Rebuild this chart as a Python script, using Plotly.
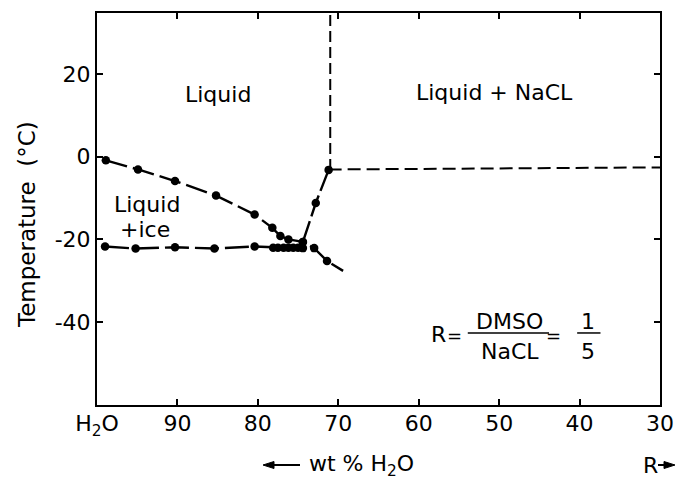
import plotly.graph_objects as go

# ---- data ----
# ice liquidus (Liquid / Liquid + ice boundary)
ice_wt = [98.9, 94.9, 90.3, 85.2, 80.4, 78.2, 77.2, 76.2, 74.4, 73.0, 71.4]
ice_T = [-0.9, -3.1, -5.9, -9.4, -14.0, -17.2, -19.2, -20.0, -20.6, -22.1, -25.2]
ice_line_end_wt = 69.4
ice_line_end_T = -27.6

# eutectic (solidus) line
eut_wt = [99.0, 95.2, 90.3, 85.4, 80.4, 78.1, 77.5, 76.8, 76.2, 75.6, 75.0, 74.4]
eut_T = [-21.7, -22.2, -21.9, -22.2, -21.7, -22.0, -22.0, -22.0, -22.0, -22.0, -22.0, -22.1]

# NaCl liquidus
nacl_wt = [74.4, 72.8, 71.2]
nacl_T = [-20.6, -11.2, -3.2]

# dashed phase boundaries
vert_wt = [71.0, 71.0]
vert_T = [-3.2, 35.0]
horiz_wt = [71.2, 30.0]
horiz_T = [-3.1, -2.6]

x_tickvals = [100, 90, 80, 70, 60, 50, 40, 30]
x_ticktext = ["H<sub>2</sub>O", "90", "80", "70", "60", "50", "40", "30"]
y_tickvals = [20, 0, -20, -40]
y_ticktext = ["20", "0", "-20", "-40"]

FONT = "DejaVu Sans"
FS = 22
BLACK = "black"

# plot area in pixels (for paper-coordinate placement of decorations)
PX_L, PX_R, PX_T, PX_B = 97, 660, 13, 405
def px(xp):
    return (xp - PX_L) / (PX_R - PX_L)
def py(yp):
    return (PX_B - yp) / (PX_B - PX_T)

fig = go.Figure()

fig.add_trace(go.Scatter(
    x=ice_wt + [ice_line_end_wt], y=ice_T + [ice_line_end_T], mode="lines",
    line=dict(color=BLACK, width=2.4, dash="22px,6px"), hoverinfo="skip"))
fig.add_trace(go.Scatter(
    x=eut_wt, y=eut_T, mode="lines",
    line=dict(color=BLACK, width=2.4, dash="24px,6px"), hoverinfo="skip"))
fig.add_trace(go.Scatter(
    x=nacl_wt, y=nacl_T, mode="lines",
    line=dict(color=BLACK, width=2.4, dash="22px,5px"), hoverinfo="skip"))
fig.add_trace(go.Scatter(
    x=vert_wt, y=vert_T, mode="lines",
    line=dict(color=BLACK, width=2, dash="11px,5px"), hoverinfo="skip"))
fig.add_trace(go.Scatter(
    x=horiz_wt, y=horiz_T, mode="lines",
    line=dict(color=BLACK, width=2, dash="13px,6px"), hoverinfo="skip"))

# markers
for xs, ys in [(ice_wt, ice_T), (eut_wt, eut_T), (nacl_wt, nacl_T)]:
    fig.add_trace(go.Scatter(
        x=xs, y=ys, mode="markers",
        marker=dict(color=BLACK, size=8.5), hoverinfo="skip"))

ann = []
def txt(x, y, s, size=FS, xref="x", yref="y", xanchor="center", **kw):
    ann.append(dict(x=x, y=y, text=s, xref=xref, yref=yref, showarrow=False,
                    xanchor=xanchor, yanchor="middle",
                    font=dict(family=FONT, size=size, color=BLACK), **kw))

txt(84.9, 14.9, "Liquid")
txt(50.6, 15.4, "Liquid + NaCL")
txt(93.8, -11.6, "Liquid")
txt(94.0, -17.6, "+ice")

# R = DMSO/NaCL = 1/5
txt(57.6, -43.0, "R")
txt(55.5, -43.2, "=", size=18)
txt(48.7, -39.9, "DMSO")
txt(48.7, -47.0, "NaCL")
txt(43.3, -43.2, "=", size=18)
txt(38.9, -39.9, "1")
txt(38.9, -47.0, "5")

shapes = [
    dict(type="line", xref="x", yref="y", x0=53.9, x1=43.8, y0=-42.6, y1=-42.6,
         line=dict(color=BLACK, width=1.5)),
    dict(type="line", xref="x", yref="y", x0=40.3, x1=37.4, y0=-42.6, y1=-42.6,
         line=dict(color=BLACK, width=1.5)),
]

# axis titles
txt(px(27), py(225), "Temperature  (°C)", size=23, xref="paper", yref="paper", textangle=-90)
txt(px(307), py(465), "wt % H<sub>2</sub>O", xref="paper", yref="paper", xanchor="left")
txt(px(650), py(465), "R", xref="paper", yref="paper")

# arrows drawn as shapes
def arrow(x_tail, x_head, y):
    d = 1 if x_head > x_tail else -1
    shapes.append(dict(type="line", xref="paper", yref="paper",
                       x0=px(x_tail), x1=px(x_head - d * 6), y0=py(y), y1=py(y),
                       line=dict(color=BLACK, width=2)))
    shapes.append(dict(type="path", xref="paper", yref="paper",
                       path=f"M {px(x_head)} {py(y)} L {px(x_head - d * 11)} {py(y - 3.5)} "
                            f"L {px(x_head - d * 11)} {py(y + 3.5)} Z",
                       fillcolor=BLACK, line=dict(color=BLACK, width=1)))

arrow(300, 263, 465)
arrow(658, 675, 465)

axis_common = dict(showline=True, linecolor=BLACK, linewidth=2, mirror="ticks",
                   ticks="inside", ticklen=6, tickwidth=1.5, tickcolor=BLACK,
                   showgrid=False, zeroline=False, ticklabeloverflow="allow",
                   automargin=False,
                   tickfont=dict(family=FONT, size=FS, color=BLACK))

fig.update_layout(
    width=676, height=486,
    margin=dict(l=PX_L, r=676 - PX_R, t=PX_T, b=486 - PX_B, autoexpand=False),
    paper_bgcolor="white", plot_bgcolor="white",
    showlegend=False,
    xaxis=dict(range=[100, 30], tickvals=x_tickvals, ticktext=x_ticktext,
               ticklabelstandoff=-2, **axis_common),
    yaxis=dict(range=[-60, 34.7], tickvals=y_tickvals, ticktext=y_ticktext,
               **axis_common),
    annotations=ann,
    shapes=shapes,
)

fig.write_html("out.html",
               config={"displayModeBar": False},
               post_script="document.body.style.margin='0px';"
                           "document.body.style.overflow='hidden';")
